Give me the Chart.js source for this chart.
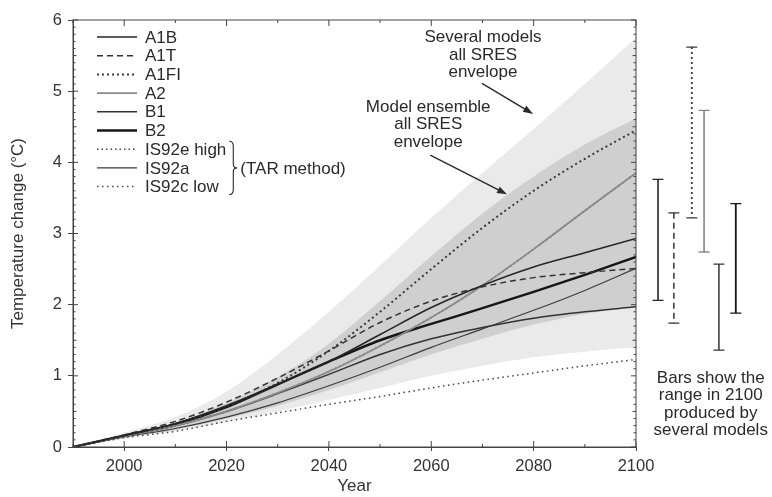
<!DOCTYPE html>
<html lang="en">
<head>
    <meta charset="UTF-8">
    <title>Temperature change 1990-2100</title>
    <style>
        body {
            margin: 0;
            background-color: #fff;
        }
        #wrap {
            width: 772px;
            height: 497px;
        }
    </style>
    <script src="https://cdn.jsdelivr.net/npm/chart.js"></script>
</head>
<body>
    <div id="wrap"><canvas id="tempChart"></canvas></div>

    <script>
        // values (°C relative to 1990)
        const years = [1990, 2000, 2010, 2020, 2030, 2040, 2050, 2060, 2070, 2080, 2090, 2100];

        const a1b   = [0, 0.16, 0.33, 0.58, 0.88, 1.20, 1.58, 1.96, 2.27, 2.53, 2.73, 2.93];
        const a1t   = [0, 0.17, 0.36, 0.63, 0.97, 1.35, 1.75, 2.05, 2.25, 2.38, 2.45, 2.51];
        const a1fi  = [0, 0.16, 0.32, 0.57, 0.90, 1.35, 1.90, 2.50, 3.08, 3.60, 4.05, 4.45];
        const a2    = [0, 0.15, 0.30, 0.50, 0.76, 1.06, 1.42, 1.82, 2.27, 2.78, 3.32, 3.85];
        const b1    = [0, 0.15, 0.30, 0.50, 0.75, 1.02, 1.30, 1.52, 1.68, 1.81, 1.90, 1.97];
        const b2    = [0, 0.16, 0.32, 0.56, 0.88, 1.20, 1.50, 1.73, 1.95, 2.18, 2.42, 2.67];
        const is92e = [0, 0.15, 0.30, 0.50, 0.76, 1.06, 1.42, 1.82, 2.27, 2.78, 3.32, 3.85];
        const is92a = [0, 0.14, 0.26, 0.42, 0.62, 0.86, 1.12, 1.40, 1.66, 1.92, 2.20, 2.51];
        const is92c = [0, 0.13, 0.22, 0.36, 0.48, 0.60, 0.71, 0.83, 0.94, 1.04, 1.14, 1.23];

        // envelopes
        const outerHigh = [0, 0.20, 0.42, 0.78, 1.30, 1.90, 2.55, 3.22, 3.85, 4.47, 5.10, 5.75];
        const outerLow  = [0, 0.12, 0.22, 0.35, 0.50, 0.66, 0.83, 1.00, 1.14, 1.26, 1.34, 1.40];
        const ensHigh   = [0, 0.17, 0.34, 0.62, 0.98, 1.45, 2.05, 2.68, 3.28, 3.80, 4.25, 4.62];
        const ensLow    = [0, 0.13, 0.24, 0.40, 0.58, 0.80, 1.05, 1.30, 1.52, 1.72, 1.87, 1.97];

        // range in 2100 from several models
        const barScenarios = ['A1B', 'A1T', 'A1FI', 'A2', 'B1', 'B2'];
        const barLow  = [2.06, 1.74, 3.22, 2.74, 1.36, 1.88];
        const barHigh = [3.76, 3.29, 5.62, 4.73, 2.57, 3.42];

        const xTicks = [2000, 2020, 2040, 2060, 2080, 2100];
        const yTicks = [0, 1, 2, 3, 4, 5, 6];

        const FONT = "'Liberation Sans', Arial, sans-serif";
        const INK = '#2a2a2a';

        const pts = arr => arr.map((v, i) => ({ x: years[i], y: v }));

        function serie(label, data, color, width, dash) {
            return {
                label: label,
                data: pts(data),
                borderColor: color,
                borderWidth: width,
                borderDash: dash,
                pointRadius: 0,
                fill: false,
                cubicInterpolationMode: 'monotone'
            };
        }

        function envelope(data, fill, color) {
            return {
                label: '',
                data: pts(data),
                borderWidth: 0,
                pointRadius: 0,
                fill: fill,
                backgroundColor: color,
                cubicInterpolationMode: 'monotone'
            };
        }

        // frame with minor ticks on all sides
        const framePlugin = {
            id: 'frame',
            afterDraw(chart) {
                const { ctx, chartArea: a, scales: { x, y } } = chart;
                ctx.save();
                ctx.strokeStyle = '#444';
                ctx.lineWidth = 1;
                ctx.strokeRect(a.left, a.top, a.right - a.left, a.bottom - a.top);
                ctx.beginPath();
                for (let k = 0; k <= 60; k++) {
                    const py = y.getPixelForValue(k / 10);
                    const len = k % 10 === 0 ? 5 : (k % 5 === 0 ? 3.5 : 2.5);
                    ctx.moveTo(a.left, py); ctx.lineTo(a.left + len, py);
                    ctx.moveTo(a.right, py); ctx.lineTo(a.right - len, py);
                }
                for (let yr = 1990; yr <= 2100; yr += 10) {
                    const px = x.getPixelForValue(yr);
                    const len = yr % 20 === 0 ? 6 : 3;
                    ctx.moveTo(px, a.bottom); ctx.lineTo(px, a.bottom - len);
                    ctx.moveTo(px, a.top); ctx.lineTo(px, a.top + len);
                }
                ctx.stroke();
                ctx.restore();
            }
        };

        // legend drawn inside the plot area
        const legendPlugin = {
            id: 'innerLegend',
            afterDraw(chart) {
                const { ctx, chartArea: a } = chart;
                const items = chart.data.datasets.filter(d => d.label);
                const x0 = a.left + 24, x1 = a.left + 64, tx = a.left + 72;
                const rowH = 18.7;
                ctx.save();
                ctx.font = '17px ' + FONT;
                ctx.fillStyle = INK;
                ctx.textBaseline = 'middle';
                let braceX = 0;
                items.forEach((d, i) => {
                    const yy = a.top + 17 + i * rowH;
                    ctx.beginPath();
                    ctx.strokeStyle = d.borderColor;
                    ctx.lineWidth = d.borderWidth;
                    ctx.setLineDash(d.borderDash || []);
                    ctx.moveTo(x0, yy);
                    ctx.lineTo(x1, yy);
                    ctx.stroke();
                    ctx.setLineDash([]);
                    ctx.fillText(d.label, tx, yy + 1);
                    if (d.label.startsWith('IS92')) {
                        braceX = Math.max(braceX, tx + ctx.measureText(d.label).width + 3);
                    }
                });
                // brace for the IS92 group
                const first = items.findIndex(d => d.label.startsWith('IS92'));
                const y1 = a.top + 17 + first * rowH - 8;
                const y2 = a.top + 17 + (items.length - 1) * rowH + 8;
                const ym = (y1 + y2) / 2;
                ctx.beginPath();
                ctx.strokeStyle = INK;
                ctx.lineWidth = 1.1;
                ctx.moveTo(braceX, y1);
                ctx.quadraticCurveTo(braceX + 4, y1, braceX + 4, y1 + 5);
                ctx.lineTo(braceX + 4, ym - 4);
                ctx.quadraticCurveTo(braceX + 4, ym, braceX + 8, ym);
                ctx.quadraticCurveTo(braceX + 4, ym, braceX + 4, ym + 4);
                ctx.lineTo(braceX + 4, y2 - 5);
                ctx.quadraticCurveTo(braceX + 4, y2, braceX, y2);
                ctx.stroke();
                ctx.fillText('(TAR method)', braceX + 11, ym + 1);
                ctx.restore();
            }
        };

        // text labels and arrows, anchored in data units
        const notes = [
            { x: 2070.1, y: 5.75, lines: ['Several models', 'all SRES', 'envelope'] },
            { x: 2059.4, y: 4.78, lines: ['Model ensemble', 'all SRES', 'envelope'] },
            { x: 2114.6, y: 0.97, lines: ['Bars show the', 'range in 2100', 'produced by', 'several models'] }
        ];
        const arrows = [
            { from: [2069.9, 5.11], to: [2079.9, 4.68] },
            { from: [2059.8, 4.10], to: [2074.8, 3.55] }
        ];

        const notesPlugin = {
            id: 'notes',
            afterDraw(chart) {
                const { ctx, scales: { x, y } } = chart;
                ctx.save();
                ctx.font = '17px ' + FONT;
                ctx.fillStyle = INK;
                ctx.textAlign = 'center';
                ctx.textBaseline = 'middle';
                notes.forEach(n => {
                    const px = x.getPixelForValue(n.x);
                    const py = y.getPixelForValue(n.y);
                    n.lines.forEach((t, i) => ctx.fillText(t, px, py + i * 17.5));
                });
                arrows.forEach(ar => {
                    const xa = x.getPixelForValue(ar.from[0]), ya = y.getPixelForValue(ar.from[1]);
                    const xb = x.getPixelForValue(ar.to[0]), yb = y.getPixelForValue(ar.to[1]);
                    const ang = Math.atan2(yb - ya, xb - xa);
                    ctx.beginPath();
                    ctx.strokeStyle = INK;
                    ctx.lineWidth = 1.4;
                    ctx.moveTo(xa, ya);
                    ctx.lineTo(xb - 8 * Math.cos(ang), yb - 8 * Math.sin(ang));
                    ctx.stroke();
                    ctx.beginPath();
                    ctx.moveTo(xb, yb);
                    ctx.lineTo(xb - 10 * Math.cos(ang) + 3.5 * Math.sin(ang), yb - 10 * Math.sin(ang) - 3.5 * Math.cos(ang));
                    ctx.lineTo(xb - 10 * Math.cos(ang) - 3.5 * Math.sin(ang), yb - 10 * Math.sin(ang) + 3.5 * Math.cos(ang));
                    ctx.closePath();
                    ctx.fill();
                });
                ctx.restore();
            }
        };

        // range bars to the right of 2100, placed in years past the axis end
        const barOffsets = [4.3, 7.4, 10.9, 13.3, 16.2, 19.5];
        const barsPlugin = {
            id: 'rangeBars',
            afterDraw(chart) {
                const { ctx, scales: { x, y } } = chart;
                ctx.save();
                barScenarios.forEach((name, i) => {
                    const d = chart.data.datasets.find(ds => ds.label === name);
                    const px = x.getPixelForValue(2100 + barOffsets[i]);
                    const top = y.getPixelForValue(barHigh[i]);
                    const bot = y.getPixelForValue(barLow[i]);
                    ctx.strokeStyle = d.borderColor;
                    ctx.lineWidth = Math.min(d.borderWidth, 1.8);
                    ctx.beginPath();
                    ctx.setLineDash(d.borderDash || []);
                    ctx.moveTo(px, top);
                    ctx.lineTo(px, bot);
                    ctx.stroke();
                    ctx.setLineDash([]);
                    ctx.lineWidth = 1.3;
                    ctx.beginPath();
                    ctx.moveTo(px - 5.5, top); ctx.lineTo(px + 5.5, top);
                    ctx.moveTo(px - 5.5, bot); ctx.lineTo(px + 5.5, bot);
                    ctx.stroke();
                });
                ctx.restore();
            }
        };

        new Chart(document.getElementById('tempChart'), {
            type: 'line',
            data: {
                datasets: [
                    envelope(ensHigh, '+1', '#cfcfcf'),
                    envelope(ensLow, false, '#cfcfcf'),
                    envelope(outerHigh, '+1', '#eaeaea'),
                    envelope(outerLow, false, '#eaeaea'),
                    serie('A1B', a1b, '#262626', 1.6, []),
                    serie('A1T', a1t, '#333', 1.5, [6, 4]),
                    serie('A1FI', a1fi, '#3a3a3a', 2, [2, 3]),
                    serie('A2', a2, '#8a8a8a', 1.7, []),
                    serie('B1', b1, '#333', 1.5, []),
                    serie('B2', b2, '#161616', 2.4, []),
                    serie('IS92e high', is92e, '#4a4a4a', 1.6, [1.5, 3]),
                    serie('IS92a', is92a, '#3a3a3a', 1.1, []),
                    serie('IS92c low', is92c, '#444', 1.5, [1.5, 3.5])
                ]
            },
            options: {
                responsive: true,
                maintainAspectRatio: false,
                animation: false,
                layout: { padding: { left: 0, right: 136, top: 20, bottom: 0 } },
                plugins: {
                    legend: { display: false },
                    tooltip: { enabled: false },
                    filler: { drawTime: 'beforeDatasetsDraw' }
                },
                scales: {
                    x: {
                        type: 'linear',
                        min: 1990,
                        max: 2100,
                        afterBuildTicks: s => { s.ticks = xTicks.map(v => ({ value: v })); },
                        afterFit: s => { s.height = 50; },
                        ticks: {
                            font: { family: FONT, size: 16.5 },
                            color: '#333',
                            padding: 6,
                            callback: v => String(v)
                        },
                        grid: { drawOnChartArea: false, tickLength: 4, color: '#444' },
                        border: { color: '#444' },
                        title: {
                            display: true,
                            text: 'Year',
                            font: { family: FONT, size: 17 },
                            color: '#333',
                            padding: { top: 0, bottom: 0 }
                        }
                    },
                    y: {
                        min: 0,
                        max: 6,
                        afterBuildTicks: s => { s.ticks = yTicks.map(v => ({ value: v })); },
                        afterFit: s => { s.width = 73; },
                        ticks: {
                            font: { family: FONT, size: 16.5 },
                            color: '#333',
                            padding: 6
                        },
                        grid: { drawOnChartArea: false, tickLength: 5, color: '#444' },
                        border: { color: '#444' },
                        title: {
                            display: true,
                            text: 'Temperature change (°C)',
                            font: { family: FONT, size: 17 },
                            color: '#333',
                            padding: { top: 8, bottom: 0 }
                        }
                    }
                }
            },
            plugins: [framePlugin, legendPlugin, notesPlugin, barsPlugin]
        });
    </script>
</body>
</html>
